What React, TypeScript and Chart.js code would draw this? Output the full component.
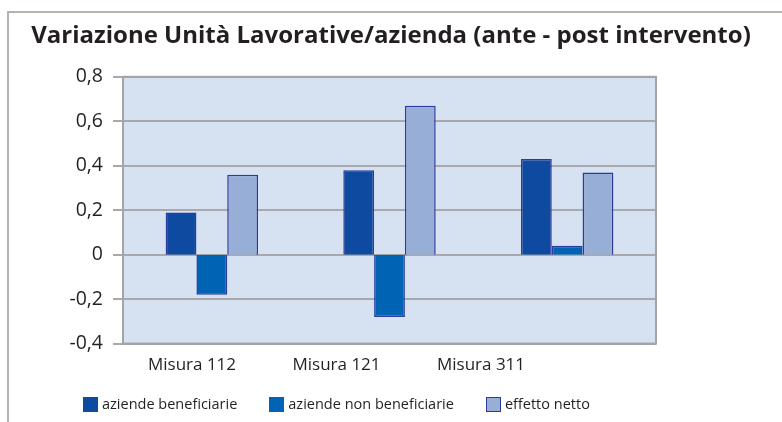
import { useEffect, useRef } from 'react';
import { Chart, registerables } from 'chart.js';

Chart.register(...registerables);

const TITLE = 'Variazione Unità Lavorative/azienda (ante - post intervento)';
const CATEGORIES = ['Misura 112', 'Misura 121', 'Misura 311'];
const SERIES_NAMES = ['aziende beneficiarie', 'aziende non beneficiarie', 'effetto netto'];
const AZIENDE_BENEFICIARIE = [0.19, 0.38, 0.43];
const AZIENDE_NON_BENEFICIARIE = [-0.18, -0.28, 0.04];
const EFFETTO_NETTO = [0.36, 0.67, 0.37];
const Y_MIN = -0.4;
const Y_MAX = 0.8;
const Y_STEP = 0.2;

const COLORS = ['#0e4a9f', '#0063b3', '#97aed7'];
const BAR_BORDER = '#2a3b9b';
const FONT = "'Open Sans', sans-serif";
const TEXT = '#231f20';

const formatTick = (v: number) => {
  if (Math.abs(v) < 1e-9) return '0';
  return v.toFixed(1).replace('.', ',');
};

const plotBackground = {
  id: 'plotBackground',
  beforeDraw(chart: any) {
    const { ctx, chartArea: a } = chart;
    ctx.save();
    ctx.fillStyle = '#d6e1f1';
    ctx.fillRect(a.left, a.top, a.right - a.left, a.bottom - a.top);
    ctx.restore();
  },
  beforeDatasetsDraw(chart: any) {
    const { ctx, chartArea: a } = chart;
    ctx.save();
    ctx.strokeStyle = '#a4a4a6';
    ctx.lineWidth = 2;
    ctx.strokeRect(a.left, a.top, a.right - a.left, a.bottom - a.top);
    ctx.restore();
  },
};

export default function App() {
  const ref = useRef<HTMLCanvasElement | null>(null);

  useEffect(() => {
    if (!ref.current) return;
    const series = [AZIENDE_BENEFICIARIE, AZIENDE_NON_BENEFICIARIE, EFFETTO_NETTO];
    const chart = new Chart(ref.current, {
      type: 'bar',
      data: {
        labels: CATEGORIES,
        datasets: series.map((d, i) => ({
          label: SERIES_NAMES[i],
          data: d,
          backgroundColor: COLORS[i],
          borderColor: BAR_BORDER,
          borderWidth: 1.5,
          categoryPercentage: 0.52,
          barPercentage: 1.0,
          xAxisID: 'x',
          yAxisID: 'y',
        })),
      },
      options: {
        animation: false,
        responsive: false,
        devicePixelRatio: 1,
        layout: { padding: { left: 0, right: 0, top: 0, bottom: 36 } },
        plugins: {
          legend: { display: false },
          tooltip: { enabled: false },
          title: {
            display: true,
            text: TITLE,
            color: TEXT,
            font: { family: FONT, size: 24, weight: 'bold' },
            padding: { top: 22, bottom: 26 },
          },
        },
        scales: {
          x: { display: false, type: 'category', offset: true },
          xLabels: {
            type: 'linear',
            position: 'bottom',
            offset: false,
            bounds: 'data',
            min: -0.4775,
            max: 3.211,
            afterBuildTicks: (axis: any) => {
              axis.ticks = CATEGORIES.map((_, i) => ({ value: i }));
            },
            grid: { display: false, drawTicks: false, offset: false },
            border: { display: false },
            ticks: {
              autoSkip: false,
              maxRotation: 0,
              padding: 11,
              color: TEXT,
              font: { family: FONT, size: 17 },
              callback: (v: any) => CATEGORIES[v as number] ?? '',
            },
          },
          y: {
            position: 'left',
            min: Y_MIN,
            max: Y_MAX,
            afterFit: (s: any) => {
              s.width = 123;
            },
            grid: {
              color: '#a7a9ac',
              lineWidth: 2,
              tickLength: 10,
              tickColor: '#a7a9ac',
            },
            border: { display: false },
            ticks: {
              stepSize: Y_STEP,
              padding: 10,
              color: TEXT,
              font: { family: FONT, size: 19.5 },
              callback: (v: any) => formatTick(Number(v)),
            },
          },
          yRight: {
            position: 'right',
            display: true,
            grid: { display: false, drawTicks: false },
            border: { display: false },
            ticks: { display: false },
            afterFit: (s: any) => {
              s.width = 126;
            },
          },
        },
      },
      plugins: [plotBackground],
    });
    return () => chart.destroy();
  }, []);

  return (
    <div style={{ position: 'absolute', left: 0, top: 0, width: 782, height: 422, overflow: 'hidden', background: '#fff' }}>
      <div
        style={{
          position: 'absolute',
          left: 7,
          top: 11,
          width: 775,
          height: 411,
          borderLeft: '2px solid #b6b3ac',
          borderTop: '2px solid #b6b3ac',
          boxSizing: 'border-box',
        }}
      />
      <canvas ref={ref} width={782} height={422} style={{ position: 'absolute', left: 0, top: 0, width: 782, height: 422 }} />
      <div
        style={{
          position: 'absolute',
          left: 83,
          top: 395,
          display: 'flex',
          alignItems: 'center',
          fontFamily: FONT,
          fontSize: 14.5,
          color: TEXT,
          whiteSpace: 'nowrap',
          lineHeight: '18px',
        }}
      >
        {SERIES_NAMES.map((name, i) => (
          <div key={name} style={{ display: 'flex', alignItems: 'center', marginRight: 32 }}>
            <span
              style={{
                display: 'inline-block',
                width: 15,
                height: 15,
                background: COLORS[i],
                border: `1px solid ${i === 2 ? BAR_BORDER : COLORS[i]}`,
                boxSizing: 'border-box',
                marginRight: 4,
              }}
            />
            <span>{name}</span>
          </div>
        ))}
      </div>
    </div>
  );
}
